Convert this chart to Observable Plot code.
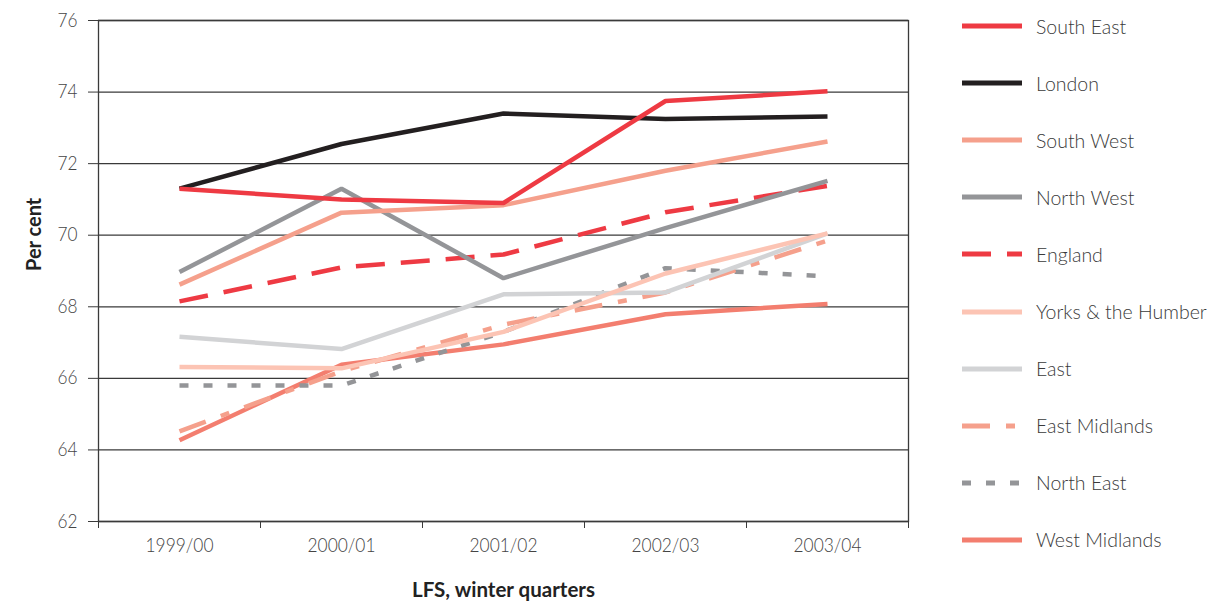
<!DOCTYPE html>
<html>
<head>
<meta charset="utf-8">
<script src="https://cdn.jsdelivr.net/npm/d3@7"></script>
<script src="https://cdn.jsdelivr.net/npm/@observablehq/plot@0.6"></script>
<style>
  html, body { margin: 0; padding: 0; background: #fff; }
  #wrap { position: relative; width: 1214px; height: 605px; overflow: hidden; }
  #chart { position: absolute; left: 0; top: 0; }
  #legend { position: absolute; left: 0; top: 0; width: 1214px; height: 605px; pointer-events: none; }
  .item { position: absolute; left: 960px; height: 26px; display: flex; align-items: center; }
  .item svg { display: block; }
  .item span { margin-left: 12px; font-family: Lato, "Open Sans", sans-serif; font-weight: 300; font-size: 19.5px; color: #3a3a3a; white-space: nowrap; }
</style>
</head>
<body>
<div id="wrap">
  <div id="chart"></div>
  <div id="legend"></div>
</div>
<script>
// Categories (x)
const years = ["1999/00", "2000/01", "2001/02", "2002/03", "2003/04"];
// Y axis ticks
const yTicks = [62, 64, 66, 68, 70, 72, 74, 76];

// Series values (per cent)
const southEast     = [71.3, 71.0, 70.9, 73.75, 74.02];
const london        = [71.3, 72.55, 73.4, 73.25, 73.32];
const southWest     = [68.62, 70.63, 70.84, 71.8, 72.62];
const northWest     = [68.97, 71.3, 68.8, 70.2, 71.52];
const england       = [68.15, 69.1, 69.46, 70.64, 71.38];
const yorksHumber   = [66.32, 66.28, 67.3, 68.93, 70.05];
const east          = [67.16, 66.82, 68.35, 68.4, 70.05];
const eastMidlands  = [64.52, 66.2, 67.5, 68.4, 69.85];
const northEast     = [65.8, 65.8, 67.3, 69.08, 68.85];
const westMidlands  = [64.27, 66.38, 66.95, 67.79, 68.08];

// Legend order (first = drawn on top)
const seriesNames = ["South East", "London", "South West", "North West", "England",
  "Yorks & the Humber", "East", "East Midlands", "North East", "West Midlands"];
const seriesValues = [southEast, london, southWest, northWest, england,
  yorksHumber, east, eastMidlands, northEast, westMidlands];
const seriesColors = ["#ee3a43", "#231f20", "#f5a08c", "#949598", "#ee3a43",
  "#fcc4b4", "#d2d3d5", "#f5a08c", "#949598", "#f37e6f"];
const seriesDash = [null, null, null, null, "29,16", null, null, "28,16,9,16", "9,15", null];

const tickFont = 'Lato, "Open Sans", sans-serif';

const lineMarks = [];
for (let s = seriesNames.length - 1; s >= 0; s--) {
  const rows = years.map((yr, i) => ({i, v: seriesValues[s][i]}));
  lineMarks.push(Plot.line(rows, {
    x: "i", y: "v",
    stroke: seriesColors[s],
    strokeWidth: 4.5,
    strokeDasharray: seriesDash[s] || undefined,
    strokeLinecap: "butt",
    strokeLinejoin: "miter"
  }));
}

const boundaries = d3.range(years.length + 1).map(d => d - 0.5);

const chart = Plot.plot({
  width: 930,
  height: 605,
  marginLeft: 98,
  marginRight: 22,
  marginTop: 20,
  marginBottom: 84,
  style: {fontFamily: tickFont, fontSize: "19px", fontWeight: 300, color: "#333", background: "#fff"},
  x: {domain: [-0.5, years.length - 0.5], axis: null},
  y: {domain: [62, 76], axis: null},
  marks: [
    Plot.ruleY(yTicks, {stroke: "#3a3a3a", strokeWidth: 1.3}),
    Plot.frame({stroke: "#3a3a3a", strokeWidth: 1.3}),
    Plot.axisY({ticks: yTicks, tickSize: 10, tickPadding: 11, stroke: "#3a3a3a", fill: "#444",
      fontSize: 19, tickFormat: d => d, label: null}),
    Plot.axisX({ticks: boundaries, tickSize: 7, tickFormat: () => "", stroke: "#3a3a3a", label: null}),
    Plot.axisX({ticks: d3.range(years.length), tickSize: 0, tickPadding: 17, fill: "#444",
      fontSize: 19, tickFormat: i => years[i], label: null}),
    ...lineMarks,
    Plot.text(["Per cent"], {frameAnchor: "left", dx: -64, rotate: -90, fontWeight: "bold",
      fontSize: 20, fill: "#222", fontFamily: tickFont}),
    Plot.text(["LFS, winter quarters"], {frameAnchor: "bottom", dy: 75, fontWeight: "bold",
      fontSize: 20, fill: "#222", fontFamily: tickFont})
  ]
});
document.getElementById("chart").appendChild(chart);

// Slightly narrow the digit labels to match the original face
d3.select(chart).selectAll("text").each(function() {
  const t = this.textContent;
  let len = null;
  if (years.includes(t)) len = 68;
  else if (/^\d\d$/.test(t)) len = 20;
  else if (t === "LFS, winter quarters") len = 183;
  if (len) this.setAttribute("textLength", len), this.setAttribute("lengthAdjust", "spacingAndGlyphs");
});

// Legend
const legend = document.getElementById("legend");
seriesNames.forEach((name, s) => {
  const item = document.createElement("div");
  item.className = "item";
  item.style.top = (26 + s * 57.1 - 13) + "px";
  const svg = d3.create("svg").attr("width", 64).attr("height", 26);
  svg.append("line")
    .attr("x1", 2).attr("x2", 62).attr("y1", 13).attr("y2", 13)
    .attr("stroke", seriesColors[s])
    .attr("stroke-width", 5)
    .attr("stroke-dasharray", seriesDash[s])
    .attr("stroke-linecap", "butt");
  item.appendChild(svg.node());
  const span = document.createElement("span");
  span.textContent = name;
  item.appendChild(span);
  legend.appendChild(item);
});
</script>
</body>
</html>
